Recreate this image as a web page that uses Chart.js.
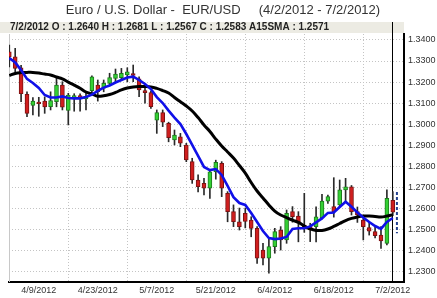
<!DOCTYPE html>
<html>
<head>
<meta charset="utf-8">
<script src="https://cdn.jsdelivr.net/npm/chart.js@4/dist/chart.umd.min.js"></script>
<style>
  html, body { margin: 0; padding: 0; background: #fff; }
  canvas { display: block; }
</style>
</head>
<body>
<canvas id="chart" width="437" height="298"></canvas>
<script>
// daily EUR/USD, 4/2/2012 - 7/2/2012
var dates = [
  '4/2/2012', '4/3/2012', '4/4/2012', '4/5/2012', '4/6/2012',
  '4/9/2012', '4/10/2012', '4/11/2012', '4/12/2012', '4/13/2012',
  '4/16/2012', '4/17/2012', '4/18/2012', '4/19/2012', '4/20/2012',
  '4/23/2012', '4/24/2012', '4/25/2012', '4/26/2012', '4/27/2012',
  '4/30/2012', '5/1/2012', '5/2/2012', '5/3/2012', '5/4/2012',
  '5/7/2012', '5/8/2012', '5/9/2012', '5/10/2012', '5/11/2012',
  '5/14/2012', '5/15/2012', '5/16/2012', '5/17/2012', '5/18/2012',
  '5/21/2012', '5/22/2012', '5/23/2012', '5/24/2012', '5/25/2012',
  '5/28/2012', '5/29/2012', '5/30/2012', '5/31/2012', '6/1/2012',
  '6/4/2012', '6/5/2012', '6/6/2012', '6/7/2012', '6/8/2012',
  '6/11/2012', '6/12/2012', '6/13/2012', '6/14/2012', '6/15/2012',
  '6/18/2012', '6/19/2012', '6/20/2012', '6/21/2012', '6/22/2012',
  '6/25/2012', '6/26/2012', '6/27/2012', '6/28/2012', '6/29/2012',
  '7/2/2012'
];

var openPx = [
  1.3343, 1.3320, 1.3268, 1.3142, 1.3090,
  1.3105, 1.3110, 1.3083, 1.3107, 1.3186,
  1.3066, 1.3128, 1.3136, 1.3120, 1.3160,
  1.3186, 1.3171, 1.3194, 1.3218, 1.3221,
  1.3234, 1.3240, 1.3215, 1.3160, 1.3150,
  1.3020, 1.3056, 1.3005, 1.2926, 1.2941,
  1.2902, 1.2823, 1.2736, 1.2720, 1.2697,
  1.2775, 1.2815, 1.2673, 1.2586, 1.2538,
  1.2578, 1.2546, 1.2507, 1.2404, 1.2365,
  1.2420, 1.2499, 1.2452, 1.2586, 1.2565,
  1.2522, 1.2515, 1.2515, 1.2557, 1.2636,
  1.2610, 1.2618, 1.2689, 1.2704, 1.2586,
  1.2546, 1.2510, 1.2491, 1.2475, 1.2436,
  1.2640
];

var highPx = [
  1.3376, 1.3360, 1.3280, 1.3154, 1.3127,
  1.3128, 1.3130, 1.3154, 1.3218, 1.3202,
  1.3147, 1.3145, 1.3145, 1.3154, 1.3230,
  1.3210, 1.3210, 1.3242, 1.3262, 1.3265,
  1.3268, 1.3281, 1.3225, 1.3175, 1.3158,
  1.3068, 1.3068, 1.3010, 1.2973, 1.2957,
  1.2910, 1.2839, 1.2760, 1.2744, 1.2783,
  1.2830, 1.2823, 1.2681, 1.2618, 1.2603,
  1.2603, 1.2562, 1.2515, 1.2436, 1.2460,
  1.2507, 1.2515, 1.2594, 1.2610, 1.2586,
  1.2673, 1.2531, 1.2609, 1.2668, 1.2665,
  1.2747, 1.2736, 1.2744, 1.2710, 1.2608,
  1.2562, 1.2538, 1.2515, 1.2515, 1.2689,
  1.2681
];

var lowPx = [
  1.3272, 1.3248, 1.3107, 1.3036, 1.3045,
  1.3038, 1.3052, 1.3068, 1.3083, 1.3068,
  1.2997, 1.3062, 1.3062, 1.3068, 1.3150,
  1.3110, 1.3154, 1.3186, 1.3202, 1.3210,
  1.3202, 1.3202, 1.3131, 1.3100, 1.3075,
  1.2957, 1.2989, 1.2917, 1.2902, 1.2894,
  1.2823, 1.2720, 1.2680, 1.2665, 1.2649,
  1.2740, 1.2657, 1.2538, 1.2515, 1.2499,
  1.2509, 1.2467, 1.2341, 1.2333, 1.2294,
  1.2389, 1.2404, 1.2436, 1.2536, 1.2443,
  1.2488, 1.2444, 1.2443, 1.2551, 1.2625,
  1.2560, 1.2609, 1.2633, 1.2570, 1.2535,
  1.2452, 1.2475, 1.2462, 1.2412, 1.2428,
  1.2567
];

var closePx = [
  1.3319, 1.3265, 1.3145, 1.3052, 1.3110,
  1.3098, 1.3082, 1.3112, 1.3186, 1.3081,
  1.3139, 1.3136, 1.3125, 1.3132, 1.3225,
  1.3155, 1.3194, 1.3221, 1.3238, 1.3242,
  1.3249, 1.3232, 1.3163, 1.3150, 1.3083,
  1.3056, 1.3010, 1.2937, 1.2949, 1.2910,
  1.2831, 1.2736, 1.2704, 1.2697, 1.2775,
  1.2820, 1.2697, 1.2586, 1.2538, 1.2515,
  1.2540, 1.2507, 1.2365, 1.2365, 1.2420,
  1.2491, 1.2452, 1.2578, 1.2562, 1.2537,
  1.2514, 1.2499, 1.2562, 1.2636, 1.2657,
  1.2586, 1.2689, 1.2704, 1.2586, 1.2570,
  1.2515, 1.2494, 1.2472, 1.2447, 1.2649,
  1.2583
];

// black line (A15SMA)
var sma15 = [
  1.3231, 1.3241, 1.3245, 1.3246, 1.3246,
  1.3243, 1.3238, 1.3234, 1.3224, 1.3215,
  1.3200, 1.3186, 1.3171, 1.3153, 1.3144,
  1.3133, 1.3135, 1.3141, 1.3151, 1.3163,
  1.3172, 1.3177, 1.3179, 1.3179, 1.3177,
  1.3170, 1.3160, 1.3148, 1.3127, 1.3107,
  1.3087, 1.3063, 1.3032, 1.2997, 1.2966,
  1.2930, 1.2897, 1.2869, 1.2840, 1.2805,
  1.2769, 1.2724, 1.2684, 1.2651, 1.2618,
  1.2589, 1.2570, 1.2558, 1.2546, 1.2535,
  1.2518, 1.2504, 1.2497, 1.2497, 1.2504,
  1.2516, 1.2530, 1.2544, 1.2554, 1.2561,
  1.2565, 1.2565, 1.2563, 1.2561, 1.2565,
  1.2571
];

// blue line (fast average)
var fastAvg = [
  1.3314, 1.3293, 1.3257, 1.3215, 1.3196,
  1.3172, 1.3139, 1.3127, 1.3127, 1.3132,
  1.3125, 1.3123, 1.3123, 1.3129, 1.3141,
  1.3158, 1.3174, 1.3184, 1.3198, 1.3210,
  1.3222, 1.3226, 1.3210, 1.3191, 1.3167,
  1.3129, 1.3101, 1.3065, 1.3032, 1.3001,
  1.2954, 1.2902, 1.2850, 1.2798, 1.2783,
  1.2788, 1.2760, 1.2708, 1.2655, 1.2627,
  1.2618, 1.2580, 1.2537, 1.2494, 1.2461,
  1.2456, 1.2459, 1.2466, 1.2504, 1.2507,
  1.2507, 1.2516, 1.2535, 1.2554, 1.2580,
  1.2582, 1.2608, 1.2633, 1.2609, 1.2582,
  1.2558, 1.2537, 1.2518, 1.2504, 1.2537,
  1.2556
];

var xTickIdx = [5, 15, 25, 35, 45, 55, 65];
var yTicks = [1.23, 1.24, 1.25, 1.26, 1.27, 1.28, 1.29, 1.30, 1.31, 1.32, 1.33, 1.34];

// dashed blue marker right of the last bar
var markerIndex = 65.7;
var markerRange = [1.2679, 1.2484];

var titleText = 'Euro / U.S. Dollar -  EUR/USD     (4/2/2012 - 7/2/2012)';
var last = dates.length - 1;
var headerText = dates[last] +
  ' O : ' + openPx[last].toFixed(4) +
  ' H : ' + highPx[last].toFixed(4) +
  ' L : ' + lowPx[last].toFixed(4) +
  ' C : ' + closePx[last].toFixed(4) +
  ' A15SMA : ' + sma15[last].toFixed(4);

var FONT = "'Liberation Sans', Arial, sans-serif";

function isUp(i) {
  return closePx[i] >= openPx[i];
}

var bodies = dates.map(function (d, i) { return { x: i, y: [openPx[i], closePx[i]] }; });
var wicks = dates.map(function (d, i) { return { x: i, y: [lowPx[i], highPx[i]] }; });
var smaPts = dates.map(function (d, i) { return { x: i, y: sma15[i] }; });
var fastPts = dates.map(function (d, i) { return { x: i, y: fastAvg[i] }; });

var overlay = {
  id: 'overlay',
  beforeDatasetsDraw: function (chart) {
    var ctx = chart.ctx;
    var a = chart.chartArea;
    var xs = chart.scales.x;

    ctx.save();
    // header strip with last bar values
    ctx.fillStyle = '#ecebe3';
    ctx.fillRect(0, a.top - 12, a.right, 11);
    ctx.fillStyle = '#222';
    ctx.font = 'bold 10px ' + FONT;
    ctx.textBaseline = 'middle';
    ctx.fillText(headerText, 10, a.top - 6.5);

    // left edge of plot
    ctx.strokeStyle = '#c8c8c8';
    ctx.lineWidth = 1;
    ctx.beginPath();
    ctx.moveTo(a.left + 0.5, a.top);
    ctx.lineTo(a.left + 0.5, a.bottom);
    ctx.stroke();

    // cursor line on the last date
    var cx = Math.round(xs.getPixelForValue(last)) - 0.5;
    ctx.strokeStyle = '#000';
    ctx.beginPath();
    ctx.moveTo(cx, a.top - 12);
    ctx.lineTo(cx, a.bottom);
    ctx.stroke();
    ctx.restore();
  }
};

var ctx = document.getElementById('chart').getContext('2d');

new Chart(ctx, {
  type: 'bar',
  data: {
    datasets: [
      {
        type: 'line',
        data: fastPts,
        borderColor: '#1010e8',
        borderWidth: 2.6,
        pointRadius: 0,
        tension: 0,
        order: 1
      },
      {
        type: 'line',
        data: smaPts,
        borderColor: '#000',
        borderWidth: 3,
        pointRadius: 0,
        tension: 0.4,
        order: 2
      },
      {
        type: 'line',
        data: [{ x: markerIndex, y: markerRange[0] }, { x: markerIndex, y: markerRange[1] }],
        borderColor: '#23408f',
        borderWidth: 2,
        borderDash: [3, 2],
        pointRadius: 0,
        order: 0
      },
      {
        data: bodies,
        grouped: false,
        barThickness: 4,
        minBarLength: 1,
        borderSkipped: false,
        borderWidth: 1,
        backgroundColor: function (c) { return isUp(c.dataIndex) ? '#34d034' : '#d01e1e'; },
        borderColor: function (c) { return isUp(c.dataIndex) ? '#1d7a1d' : '#7a1212'; },
        order: 3
      },
      {
        data: wicks,
        grouped: false,
        barThickness: 1,
        borderWidth: 0,
        backgroundColor: '#2a2a2a',
        order: 4
      }
    ]
  },
  options: {
    responsive: false,
    devicePixelRatio: 1,
    animation: false,
    layout: { padding: { left: 9, right: 0, top: 0, bottom: 0 } },
    plugins: {
      legend: { display: false },
      tooltip: { enabled: false },
      title: {
        display: true,
        text: titleText,
        color: '#333',
        font: { family: FONT, size: 13, weight: 'normal' },
        padding: { top: 3, bottom: 15.4 }
      }
    },
    scales: {
      x: {
        type: 'linear',
        min: -0.05,
        max: 66.9,
        offset: false,
        afterBuildTicks: function (scale) {
          scale.ticks = xTickIdx.map(function (v) { return { value: v }; });
        },
        afterFit: function (scale) { scale.height = 16; },
        ticks: {
          autoSkip: false,
          maxRotation: 0,
          padding: 3,
          color: '#333',
          font: { family: FONT, size: 9 },
          callback: function (v) { return dates[v]; }
        },
        grid: { color: '#c4c4c4', drawTicks: false },
        border: { display: true, color: '#000', width: 2, dash: [1, 2] }
      },
      y: {
        type: 'linear',
        position: 'right',
        min: 1.22526,
        max: 1.3428,
        afterBuildTicks: function (scale) {
          scale.ticks = yTicks.map(function (v) { return { value: v }; });
        },
        afterFit: function (scale) { scale.width = 33; },
        ticks: {
          padding: 4,
          color: '#333',
          font: { family: FONT, size: 9 },
          callback: function (v) { return v.toFixed(4); }
        },
        grid: { color: '#c4c4c4', drawTicks: false },
        border: { display: true, color: '#000', width: 2, dash: [1, 2] }
      }
    }
  },
  plugins: [overlay]
});
</script>
</body>
</html>
